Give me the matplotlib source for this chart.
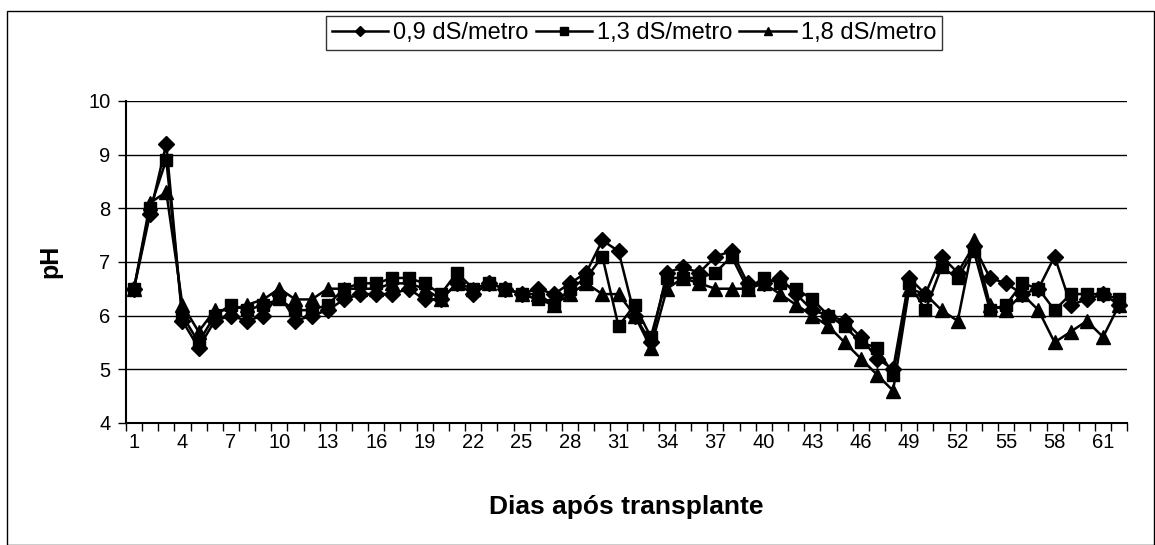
import matplotlib
matplotlib.use("Agg")
import matplotlib.pyplot as plt
from matplotlib.patches import Rectangle
import numpy as np

plt.rcParams['font.family'] = ['Liberation Sans', 'DejaVu Sans']

dias = np.arange(1, 63)

# pH medido por condutividade da solução
ph_09 = [6.5, 7.9, 9.2, 5.9, 5.4, 5.9, 6.0, 5.9, 6.0, 6.4,
         5.9, 6.0, 6.1, 6.3, 6.4, 6.4, 6.4, 6.5, 6.3, 6.3,
         6.6, 6.4, 6.6, 6.5, 6.4, 6.5, 6.4, 6.6, 6.8, 7.4,
         7.2, 6.0, 5.5, 6.8, 6.9, 6.8, 7.1, 7.2, 6.6, 6.6,
         6.7, 6.4, 6.1, 6.0, 5.9, 5.6, 5.2, 5.0, 6.7, 6.4,
         7.1, 6.8, 7.3, 6.7, 6.6, 6.4, 6.5, 7.1, 6.2, 6.3,
         6.4, 6.2]
ph_13 = [6.5, 8.0, 8.9, 6.0, 5.5, 6.0, 6.2, 6.1, 6.2, 6.3,
         6.1, 6.1, 6.2, 6.5, 6.6, 6.6, 6.7, 6.7, 6.6, 6.4,
         6.8, 6.5, 6.6, 6.5, 6.4, 6.3, 6.2, 6.5, 6.7, 7.1,
         5.8, 6.2, 5.6, 6.7, 6.7, 6.7, 6.8, 7.1, 6.5, 6.7,
         6.6, 6.5, 6.3, 6.0, 5.8, 5.5, 5.4, 4.9, 6.6, 6.1,
         6.9, 6.7, 7.2, 6.1, 6.2, 6.6, 6.5, 6.1, 6.4, 6.4,
         6.4, 6.3]
ph_18 = [6.5, 8.1, 8.3, 6.2, 5.7, 6.1, 6.1, 6.2, 6.3, 6.5,
         6.3, 6.3, 6.5, 6.5, 6.5, 6.5, 6.6, 6.6, 6.5, 6.3,
         6.6, 6.5, 6.6, 6.5, 6.4, 6.4, 6.2, 6.4, 6.6, 6.4,
         6.4, 6.0, 5.4, 6.5, 6.7, 6.6, 6.5, 6.5, 6.5, 6.6,
         6.4, 6.2, 6.0, 5.8, 5.5, 5.2, 4.9, 4.6, 6.5, 6.4,
         6.1, 5.9, 7.4, 6.2, 6.1, 6.4, 6.1, 5.5, 5.7, 5.9,
         5.6, 6.2]

fig = plt.figure(figsize=(11.55, 5.45), dpi=100)
ax = fig.add_axes([0.109, 0.224, 0.867, 0.591])

# moldura externa do gráfico
fig.patches.append(Rectangle((7 / 1155, 0), 1147 / 1155, 1 - 11 / 545,
                             transform=fig.transFigure, fill=False,
                             edgecolor='black', linewidth=1.0))

ax.plot(dias, ph_09, color='black', lw=1.8, marker='D', ms=8, label='0,9 dS/metro')
ax.plot(dias, ph_13, color='black', lw=1.8, marker='s', ms=8.5, label='1,3 dS/metro')
ax.plot(dias, ph_18, color='black', lw=1.8, marker='^', ms=9.5, label='1,8 dS/metro')

ax.set_xlim(0.5, 62.5)
ax.set_ylim(4, 10)
ax.set_yticks(range(4, 11))
ax.yaxis.grid(True, color='black', lw=1.0)
ax.set_axisbelow(True)

ax.set_xticks(dias[::3])
ax.set_xticklabels([str(d) for d in dias[::3]])
ax.set_xticks(np.arange(0.5, 63, 1), minor=True)
ax.tick_params(axis='x', which='major', length=0, pad=7, labelsize=14.5)
ax.tick_params(axis='x', which='minor', length=6, direction='out', width=1)
ax.tick_params(axis='y', length=6, direction='out', width=1, labelsize=14.5, pad=5)

for s in ['top', 'right']:
    ax.spines[s].set_visible(False)
ax.spines['left'].set_linewidth(1.5)
ax.spines['bottom'].set_linewidth(1.5)

ax.set_ylabel('pH', fontsize=18, fontweight='bold', labelpad=19)
ax.set_xlabel('Dias após transplante', fontsize=19, fontweight='bold', labelpad=31)

leg = ax.legend(loc='center', bbox_to_anchor=(634 / 1155, 1 - 33 / 545),
                bbox_transform=fig.transFigure, ncol=3, frameon=True,
                fancybox=False, edgecolor='black', fontsize=17,
                handlelength=2.4, handletextpad=0.2, columnspacing=0.3,
                markerscale=0.65, borderpad=0.25)
leg.get_frame().set_linewidth(1.0)

fig.savefig('out.png', dpi=100)
